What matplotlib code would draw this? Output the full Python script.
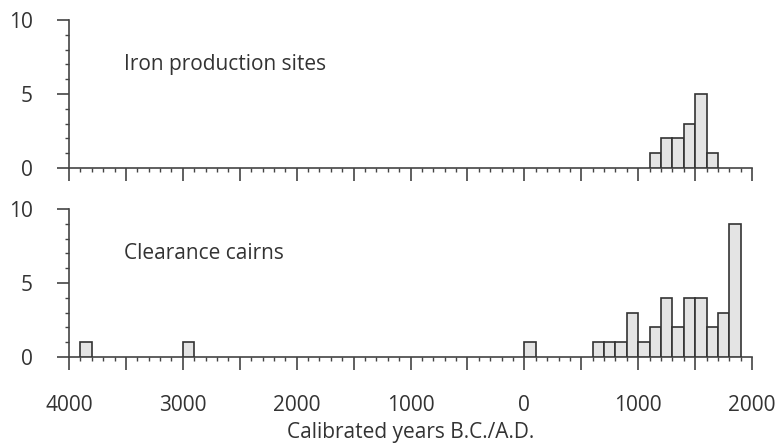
import matplotlib
matplotlib.use("Agg")
import matplotlib.pyplot as plt
import numpy as np

plt.rcParams['font.family'] = ['Open Sans', 'DejaVu Sans']

# bins are 100 years wide, left edge given (negative = B.C.)
iron_bins = [1100, 1200, 1300, 1400, 1500, 1600]
iron_counts = [1, 2, 2, 3, 5, 1]

cairn_bins = [-3900, -3000, 0, 600, 700, 800, 900, 1000, 1100, 1200, 1300,
              1400, 1500, 1600, 1700, 1800]
cairn_counts = [1, 1, 1, 1, 1, 1, 3, 1, 2, 4, 2, 4, 4, 2, 3, 9]

xticklabels = ["4000", "", "3000", "", "2000", "", "1000", "",
               "0", "", "1000", "", "2000"]

txt = "#333333"
fig = plt.figure(figsize=(7.78, 4.43), dpi=100)
ax1 = fig.add_axes([0.0887, 0.6208, 0.878, 0.334])
ax2 = fig.add_axes([0.0887, 0.1941, 0.878, 0.334])

for ax, bins, counts, label in [(ax1, iron_bins, iron_counts, "Iron production sites"),
                                (ax2, cairn_bins, cairn_counts, "Clearance cairns")]:
    ax.bar(bins, counts, width=100, align='edge', color="#e4e4e4",
           edgecolor="#333333", linewidth=1.2, zorder=3)
    ax.set_xlim(-4000, 2000)
    ax.set_ylim(0, 10)
    ax.spines['top'].set_visible(False)
    ax.spines['right'].set_visible(False)
    for s in ['left', 'bottom']:
        ax.spines[s].set_color("#444444")
        ax.spines[s].set_linewidth(1.2)
    ax.set_yticks([0, 5, 10])
    ax.set_yticks(np.arange(0, 11, 1), minor=True)
    ax.set_xticks(np.arange(-4000, 2001, 500))
    ax.set_xticks(np.arange(-4000, 2001, 100), minor=True)
    ax.tick_params(axis='both', which='major', length=9, width=1.2,
                   color="#444444", labelcolor=txt, labelsize=15)
    ax.tick_params(axis='both', which='minor', length=3, width=1.0,
                   color="#444444")
    ax.tick_params(axis='y', which='major', pad=17)
    ax.text(-3520, 7.0, label, fontsize=15, color=txt, va='center', ha='left')

ax1.set_xticklabels([])
ax2.set_xticklabels(xticklabels)
ax2.tick_params(axis='x', which='major', pad=18)
ax2.set_xlabel("Calibrated years B.C./A.D.", fontsize=15, color=txt, labelpad=5)

fig.savefig("out.png", dpi=100)
